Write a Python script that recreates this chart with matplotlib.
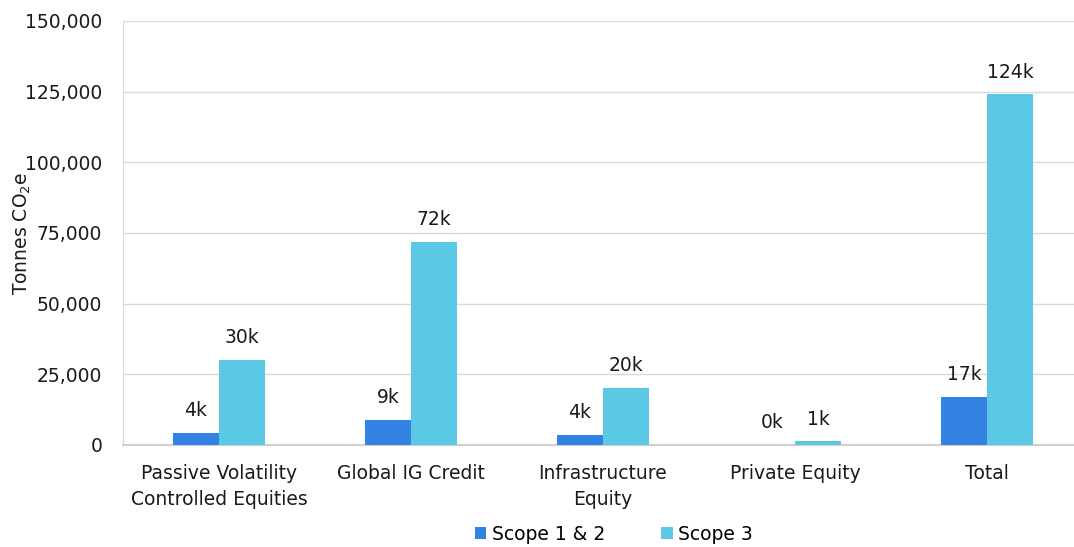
import numpy as np
import matplotlib
matplotlib.use("Agg")
import matplotlib.pyplot as plt
from matplotlib.ticker import FuncFormatter

# emissions by asset class, tonnes CO2e
categories = ["Passive Volatility\nControlled Equities", "Global IG Credit",
              "Infrastructure\nEquity", "Private Equity", "Total"]
scope_12 = [4300, 8900, 3700, 100, 17000]
scope_3 = [30100, 71900, 20200, 1300, 124000]
series_names = ["Scope 1 & 2", "Scope 3"]
yticks = [0, 25000, 50000, 75000, 100000, 125000, 150000]

DARK = "#3182E2"
LIGHT = "#5BC9E6"
GRID = "#D9D9D9"
TEXT = "#1a1a1a"
FS = 13.5

plt.rcParams['font.family'] = ['DejaVu Sans']

fig = plt.figure(figsize=(10.74, 5.47), dpi=100)
ax = fig.add_axes([123 / 1074, 1 - 445 / 547, 960 / 1074, 424 / 547])

x = np.arange(len(categories))
w = 0.24
b1 = ax.bar(x - w / 2, scope_12, w, color=DARK, label=series_names[0], zorder=3)
b2 = ax.bar(x + w / 2, scope_3, w, color=LIGHT, label=series_names[1], zorder=3)

for bars, vals in ((b1, scope_12), (b2, scope_3)):
    for rect, v in zip(bars, vals):
        ax.annotate(f"{v / 1000:.0f}k", (rect.get_x() + rect.get_width() / 2, v),
                    xytext=(0, 9), textcoords="offset points",
                    ha="center", va="bottom", fontsize=FS, color=TEXT)

ax.set_xlim(-0.5, len(categories) - 0.5)
ax.set_ylim(0, 150000)
ax.set_yticks(yticks)
ax.yaxis.set_major_formatter(FuncFormatter(lambda v, p: f"{v:,.0f}"))
ax.set_xticks(x)
ax.set_xticklabels(categories, fontsize=FS, color=TEXT, linespacing=1.45)
ax.tick_params(axis="y", labelsize=FS, colors=TEXT, length=0, pad=15)
ax.tick_params(axis="x", length=0, pad=14)

ax.grid(axis="y", color=GRID, linewidth=1, zorder=0)
for s in ("top", "right"):
    ax.spines[s].set_visible(False)
ax.spines["left"].set_color(GRID)
ax.spines["bottom"].set_color("#CFCFCF")
ax.spines["bottom"].set_linewidth(1.5)

ax.set_ylabel(r"Tonnes CO$_2$e", fontsize=FS, color=TEXT)
ax.yaxis.set_label_coords(-0.094, 0.5)

fig.legend(handles=[b1, b2], loc="center", bbox_to_anchor=(614 / 1074, 1 - 534 / 547),
           ncol=2, frameon=False, fontsize=FS, handlelength=0.6, handleheight=0.6,
           handletextpad=0.3, columnspacing=3.0)

fig.savefig("out.png", dpi=100)
